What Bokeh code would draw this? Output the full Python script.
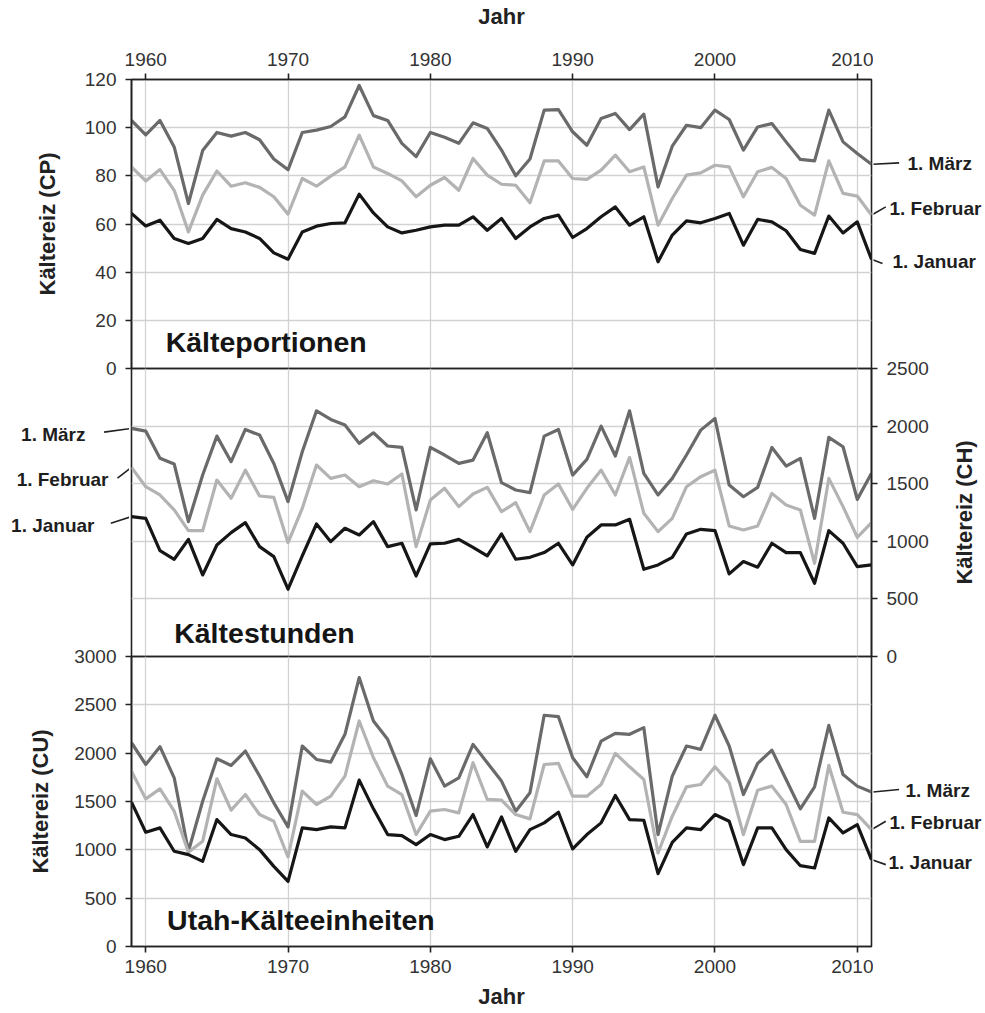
import math
from bokeh.plotting import figure
from bokeh.layouts import column, row
from bokeh.models import Range1d, FixedTicker, Label
from bokeh.core.properties import value
from bokeh.embed import file_html
from bokeh.resources import INLINE

years = list(range(1959, 2012))
x_ticks = [1960, 1970, 1980, 1990, 2000, 2010]
series_names = ["1. März", "1. Februar", "1. Januar"]

# Kälteportionen (CP)
cp_maerz = [103, 97, 103, 92, 68.5, 90.5, 98, 96.5, 98, 95, 87, 82.5, 98, 99, 100.5, 104.5, 117.5, 105, 103, 93.5,
            88, 98, 96, 93.5, 102, 99.7, 90.7, 80, 87, 107.3, 107.5, 98.3, 92.7, 103.8, 105.9, 99.2, 105.6, 75.4,
            92.3, 101, 100, 107.3, 103.4, 90.7, 100.3, 101.7, 94.1, 86.8, 86.2, 107.3, 94.1, 89.3, 84.8]
cp_feb = [83.7, 77.9, 82.6, 74, 56.7, 72, 82, 75.7, 77.1, 75.2, 71.3, 64.1, 78.9, 75.7, 79.9, 83.7, 96.9, 83.7, 81,
          77.9, 71.3, 76.1, 79.3, 74, 87.2, 80.3, 76.5, 76.1, 68.8, 86.2, 86.2, 78.9, 78.5, 82.4, 88.6, 81.7, 83.7,
          59.5, 70.6, 80.3, 81.2, 84.4, 83.7, 71.3, 81.7, 83.5, 78.9, 67.8, 63.7, 86.2, 72.7, 71.6, 63.7]
cp_jan = [64.4, 59.2, 61.6, 54, 51.9, 54, 61.9, 58.1, 56.7, 54, 48, 45.4, 56.7, 59.1, 60.2, 60.5, 72.4, 64.6, 58.8,
          56.3, 57.4, 58.8, 59.5, 59.5, 63, 57.4, 62.3, 54, 58.8, 62.3, 63.7, 54.4, 58.1, 63, 67.1, 59.5, 63, 44.3,
          55.4, 61.3, 60.5, 62.3, 64.4, 51.2, 61.9, 60.9, 57.2, 49.4, 47.8, 63.3, 56.3, 60.9, 45.3]

# Kältestunden (CH)
ch_maerz = [1980, 1957, 1720, 1671, 1171, 1575, 1913, 1691, 1971, 1922, 1676, 1344, 1777, 2133, 2058, 2009, 1850,
            1942, 1827, 1815, 1272, 1815, 1749, 1676, 1705, 1942, 1509, 1445, 1422, 1913, 1971, 1575, 1711, 2000,
            1740, 2133, 1590, 1402, 1546, 1749, 1965, 2066, 1488, 1387, 1468, 1815, 1653, 1720, 1199, 1902, 1821,
            1364, 1590]
ch_feb = [1642, 1474, 1402, 1272, 1092, 1092, 1532, 1373, 1618, 1393, 1381, 988, 1286, 1662, 1546, 1575, 1474,
          1526, 1497, 1584, 954, 1358, 1460, 1301, 1410, 1468, 1257, 1335, 1084, 1402, 1497, 1277, 1460, 1618, 1402,
          1728, 1243, 1084, 1199, 1474, 1561, 1618, 1133, 1098, 1133, 1416, 1315, 1272, 809, 1546, 1301, 1035, 1162]
ch_jan = [1214, 1199, 919, 844, 1017, 708, 968, 1075, 1162, 954, 867, 584, 873, 1150, 997, 1113, 1055, 1171, 954,
          983, 699, 977, 983, 1017, 948, 873, 1064, 844, 861, 902, 983, 795, 1035, 1142, 1142, 1191, 757, 795, 861,
          1064, 1104, 1093, 717, 824, 775, 983, 902, 902, 636, 1093, 983, 780, 795]

# Utah-Kälteeinheiten (CU)
cu_maerz = [2108, 1883, 2067, 1745, 985, 1503, 1942, 1873, 2022, 1763, 1486, 1237, 2074, 1935, 1908, 2195, 2782,
            2333, 2143, 1780, 1355, 1942, 1659, 1745, 2091, 1901, 1711, 1400, 1590, 2392, 2378, 1953, 1756, 2125,
            2205, 2195, 2264, 1158, 1763, 2074, 2039, 2392, 2074, 1572, 1894, 2032, 1728, 1424, 1652, 2288, 1780,
            1659, 1597]
cu_feb = [1814, 1527, 1631, 1400, 974, 1088, 1735, 1410, 1572, 1365, 1296, 926, 1607, 1469, 1555, 1763, 2333, 1953,
          1659, 1572, 1158, 1400, 1417, 1382, 1901, 1521, 1515, 1365, 1320, 1883, 1894, 1555, 1555, 1676, 1997, 1859,
          1728, 967, 1348, 1652, 1676, 1859, 1693, 1158, 1617, 1659, 1469, 1088, 1088, 1873, 1389, 1365, 1209]
cu_jan = [1493, 1182, 1227, 985, 950, 881, 1313, 1158, 1123, 1002, 829, 674, 1227, 1209, 1237, 1227, 1721, 1424,
          1158, 1147, 1054, 1158, 1106, 1140, 1365, 1030, 1340, 985, 1209, 1279, 1389, 1009, 1158, 1279, 1562, 1313,
          1306, 753, 1078, 1227, 1209, 1365, 1296, 847, 1227, 1227, 1002, 836, 812, 1330, 1175, 1261, 898]

cp_ticks = [0, 20, 40, 60, 80, 100, 120]
ch_ticks = [0, 500, 1000, 1500, 2000, 2500]
cu_ticks = [0, 500, 1000, 1500, 2000, 2500, 3000]

FONT = "Liberation Sans"
COLORS = ["#6a6a6a", "#b3b3b3", "#161616"]
AX = "#222222"
FRAME_W = 740
OVER = 12  # overlapping border so edge tick labels are not cut

xr = Range1d(1959, 2011)


def style(p, transparent):
    p.background_fill_color = "white"
    p.border_fill_color = "white"
    if transparent:
        p.background_fill_alpha = 0
        p.border_fill_alpha = 0


def make_fig(width, height, ymax, yticks, yloc, xloc, left, right, top, bottom, transparent):
    p = figure(width=width, height=height, x_range=xr, y_range=Range1d(0, ymax),
               output_backend="svg", toolbar_location=None,
               y_axis_location=yloc, x_axis_location=xloc,
               min_border_left=left, min_border_right=right,
               min_border_top=top, min_border_bottom=bottom)
    style(p, transparent)
    p.outline_line_color = AX
    p.outline_line_width = 1.6
    p.xaxis.ticker = FixedTicker(ticks=x_ticks)
    p.yaxis.ticker = FixedTicker(ticks=yticks)
    p.xgrid.ticker = FixedTicker(ticks=x_ticks)
    p.ygrid.ticker = FixedTicker(ticks=yticks)
    p.grid.grid_line_color = "#d2d2d2"
    p.grid.grid_line_width = 1.3
    for ax in p.axis:
        ax.major_tick_out = 6
        ax.major_tick_in = 0
        ax.minor_tick_out = 0
        ax.minor_tick_in = 0
        ax.axis_line_color = AX
        ax.axis_line_width = 1.6
        ax.major_tick_line_color = AX
        ax.major_tick_line_width = 1.6
        ax.major_label_text_font = FONT
        ax.major_label_text_font_size = "19px"
        ax.major_label_text_color = "#333333"
        ax.major_label_standoff = 9
        ax.axis_label_text_font = FONT
        ax.axis_label_text_font_size = "22px"
        ax.axis_label_text_font_style = "bold"
        ax.axis_label_text_color = AX
    return p


def label_fig(width, height, y_range, xmin, xmax, top, bottom, transparent):
    f = figure(width=width, height=height, x_range=Range1d(xmin, xmax), y_range=y_range,
               output_backend="svg", toolbar_location=None,
               x_axis_location=None, y_axis_location=None,
               min_border_left=0, min_border_right=0, min_border_top=top, min_border_bottom=bottom)
    style(f, transparent)
    f.outline_line_color = None
    f.grid.visible = False
    return f


def draw_lines(p, series):
    for ys, c in zip(series, COLORS):
        p.line(years, ys, line_color=c, line_width=3.2, line_join="round")


def title(p, text, x, y):
    p.add_layout(Label(x=x, y=y, text=text, text_font=FONT, text_font_size="28.5px",
                       text_font_style="bold", text_color="#151515", text_baseline="middle"))


def tags(f, series, side, text_x, text_y, end_x, end_y):
    i = -1 if side == "right" else 0
    align = "left" if side == "right" else "right"
    f.segment(x0=[0] * 3, y0=[s[i] for s in series], x1=end_x, y1=end_y,
              line_color=AX, line_width=1.6)
    f.text(x=text_x, y=text_y, text=series_names, text_font=value(FONT), text_font_size="19px",
           text_font_style="bold", text_color="#1e1e1e", text_baseline="middle", text_align=align)


RIGHT_W = 111
LEFT_B = 131
BOTTOM_B = 66
AXLBL_W = 33

# --- top panel
p1 = make_fig(LEFT_B + FRAME_W + 2, 79 + 289 + OVER, 120, cp_ticks, "left", "above",
              LEFT_B, 2, 79, OVER, False)
p1.xaxis.axis_label = "Jahr"
p1.xaxis.axis_label_standoff = 21
p1.xaxis.major_label_standoff = 8
p1.yaxis.axis_label = "Kältereiz (CP)"
p1.yaxis.axis_label_standoff = 22
draw_lines(p1, [cp_maerz, cp_feb, cp_jan])
title(p1, "Kälteportionen", 1961.4, 11)
l1 = label_fig(RIGHT_W, 79 + 289 + OVER, p1.y_range, 2, 2 + RIGHT_W, 79, OVER, False)
tags(l1, [cp_maerz, cp_feb, cp_jan], "right", [36, 18, 21], [85.1, 66.4, 44.3],
     [27.6, 14.3, 11], [85.4, 67.1, 43.6])

# --- middle panel
p2 = make_fig(2 + FRAME_W + RIGHT_W + 2 - AXLBL_W, OVER + 288 + OVER, 2500, ch_ticks, "right", "below",
              2, RIGHT_W + 2 - AXLBL_W, OVER, OVER, True)
p2.xaxis.visible = False
draw_lines(p2, [ch_maerz, ch_feb, ch_jan])
title(p2, "Kältestunden", 1962.0, 206)
l2 = label_fig(LEFT_B - 2, OVER + 288 + OVER, p2.y_range, -LEFT_B, -2, OVER, OVER, True)
tags(l2, [ch_maerz, ch_feb, ch_jan], "left", [-46, -23, -37], [1931, 1538, 1133],
     [-27.4, -14, -20.7], [1948, 1549, 1157])
# right-hand axis title, reading upwards like the reference
a2 = label_fig(AXLBL_W, OVER + 288 + OVER, p2.y_range, 0, AXLBL_W, OVER, OVER, True)
a2.text(x=[12.5], y=[(p2.y_range.start + p2.y_range.end) / 2], text=["Kältereiz (CH)"],
        angle=math.pi / 2, text_font=value(FONT), text_font_size="22px", text_font_style="bold",
        text_color=AX, text_align="center", text_baseline="middle")

# --- bottom panel
p3 = make_fig(LEFT_B + FRAME_W + 2, OVER + 290 + BOTTOM_B, 3000, cu_ticks, "left", "below",
              LEFT_B, 2, OVER, BOTTOM_B, True)
p3.xaxis.axis_label = "Jahr"
p3.xaxis.axis_label_standoff = 8
p3.xaxis.major_label_standoff = 7
p3.yaxis.axis_label = "Kältereiz (CU)"
p3.yaxis.axis_label_standoff = 18
draw_lines(p3, [cu_maerz, cu_feb, cu_jan])
title(p3, "Utah-Kälteeinheiten", 1961.5, 272)
l3 = label_fig(RIGHT_W, OVER + 290 + BOTTOM_B, p3.y_range, 2, 2 + RIGHT_W, OVER, BOTTOM_B, True)
tags(l3, [cu_maerz, cu_feb, cu_jan], "right", [34, 18, 17], [1617, 1279, 865],
     [27.6, 14.3, 14.3], [1624, 1296, 847])

r1 = row(p1, l1, spacing=0)
r2 = row(l2, p2, a2, spacing=0, margin=(-2 * OVER, 0, 0, 0))
r3 = row(p3, l3, spacing=0, margin=(-2 * OVER, 0, 0, 0))
layout = column(r1, r2, r3, spacing=0)
open("out.html", "w").write(file_html(layout, INLINE))
